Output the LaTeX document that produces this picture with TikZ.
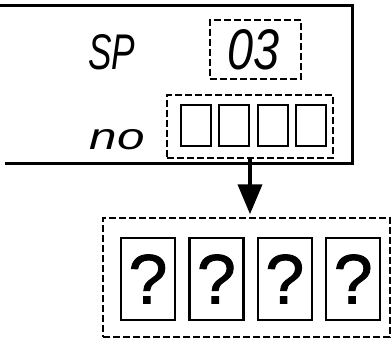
\documentclass[tikz,border=0pt]{standalone}
\usepackage{fontspec}
\setmainfont{Liberation Sans}
\newfontfamily\qfont{Liberation Sans}[FakeBold=1.3]
\usepackage{graphicx}
\usetikzlibrary{positioning, arrows.meta}
\tikzset{
  panel/.style={line width=3pt, line join=miter},
  dashbox/.style={rectangle, draw=black, line width=1.5pt, dash pattern=on 7pt off 3pt, inner sep=0pt},
  cell/.style={rectangle, draw=black, line width=1.8pt, minimum width=30pt, minimum height=41pt, inner sep=0pt},
  qcell/.style={rectangle, draw=black, line width=2.4pt, minimum width=54pt, minimum height=82pt, inner sep=0pt, font=\qfont\fontsize{70}{70}\selectfont},
  segtext/.style={inner sep=0pt, font=\itshape},
  arrow/.style={line width=4pt, -{Triangle[length=30pt, width=24pt]}}
}
\begin{document}
\begin{tikzpicture}[x=1pt, y=-1pt]
        \useasboundingbox (0,0) rectangle (391,343);

        % display panel (open on the left)
        \draw [panel] (0,5) -- (352,5) -- (352,163) -- (5,163);

        \node (spText) [segtext] at (111.5,52.5) {\resizebox{47pt}{35pt}{SP}};
        \node (noText) [segtext] at (117.5,140) {\resizebox{55pt}{20pt}{no}};

        \node (spBox) [dashbox, minimum width=91pt, minimum height=59pt] at (255.5,49.5) {};
        \node (spValue) [segtext] at (254,50) {\resizebox{52pt}{40pt}{03}};

        \node (noBox) [dashbox, minimum width=166pt, minimum height=63pt] at (250,126.5) {};
        \node (cellA) [cell] at (196,125.5) {};
        \node (cellB) [cell, right=6.5pt of cellA] {};
        \node (cellC) [cell, right=6.5pt of cellB] {};
        \node (cellD) [cell, right=6.5pt of cellC] {};

        % unknown code
        \node (resultBox) [dashbox, minimum width=287pt, minimum height=119pt] at (246.5,277.5) {};
        \node (qA) [qcell] at (148,279) {?};
        \node (qB) [qcell, right=12pt of qA] {?};
        \node (qC) [qcell, right=12pt of qB] {?};
        \node (qD) [qcell, right=12pt of qC] {?};

        \draw [arrow] (noBox.south) -- ([yshift=3pt]noBox.south |- resultBox.north);

    \end{tikzpicture}
\end{document}
